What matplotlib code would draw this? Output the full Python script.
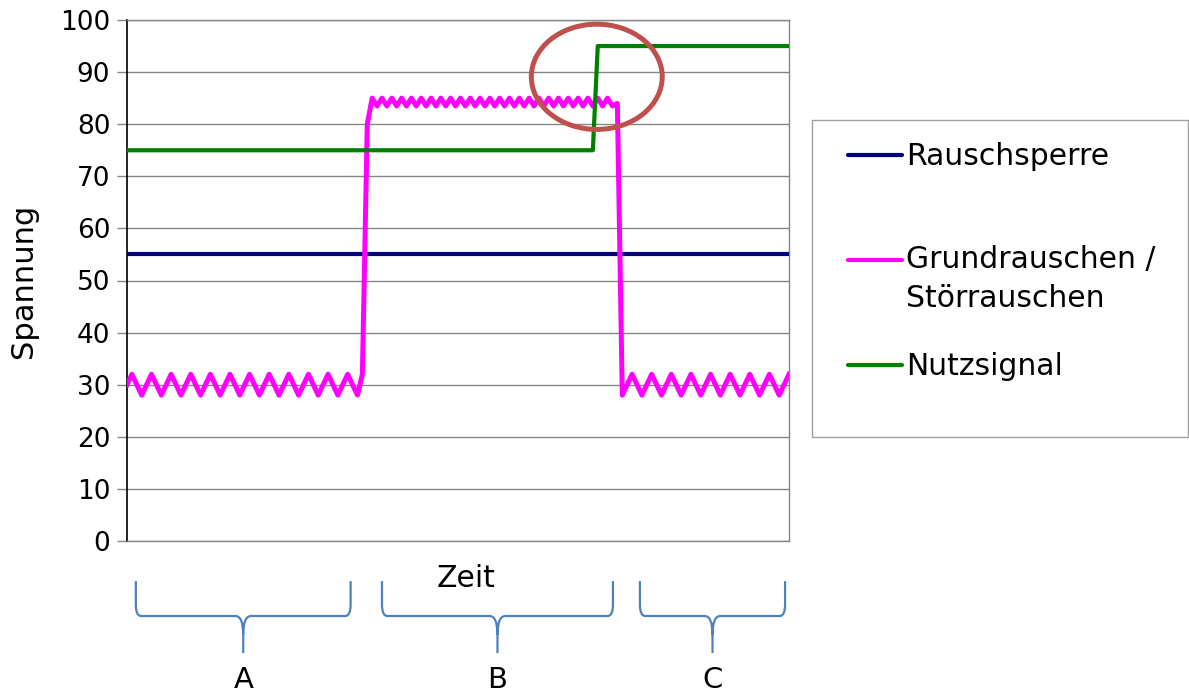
import numpy as np
import matplotlib
matplotlib.use("Agg")
import matplotlib.pyplot as plt
from matplotlib.patches import Ellipse, Rectangle, PathPatch
from matplotlib.path import Path
from matplotlib.lines import Line2D
from matplotlib.transforms import blended_transform_factory

# Grundrauschen / Stoerrauschen, ein Wert pro Abtastpunkt (0..135)
grundrauschen = [
    30, 32, 30, 28, 30, 32, 30, 28, 30, 32, 30, 28, 30, 32, 30, 28,
    30, 32, 30, 28, 30, 32, 30, 28, 30, 32, 30, 28, 30, 32, 30, 28,
    30, 32, 30, 28, 30, 32, 30, 28, 30, 32, 30, 28, 30, 32, 30, 28,
    32, 80,
    85, 83.5, 85, 83.5, 85, 83.5, 85, 83.5, 85, 83.5, 85, 83.5, 85, 83.5,
    85, 83.5, 85, 83.5, 85, 83.5, 85, 83.5, 85, 83.5, 85, 83.5, 85, 83.5,
    85, 83.5, 85, 83.5, 85, 83.5, 85, 83.5, 85, 83.5, 85, 83.5, 85, 83.5,
    85, 83.5, 85, 83.5, 85, 83.5, 85, 83.5, 84,
    28, 30, 32, 30, 28, 30, 32, 30, 28, 30, 32, 30, 28, 30, 32, 30,
    28, 30, 32, 30, 28, 30, 32, 30, 28, 30, 32, 30, 28, 30, 32, 30,
    28, 30, 32,
]
zeit = np.arange(len(grundrauschen))

rauschsperre_t = [0, 135]
rauschsperre = [55, 55]

nutzsignal_t = [0, 95, 96, 135]
nutzsignal = [75, 75, 95, 95]

serien_namen = ["Rauschsperre", "Grundrauschen /\nStörrauschen", "Nutzsignal"]
serien_farben = ["#000080", "#FF00FF", "#008000"]

y_ticks = list(range(0, 101, 10))

# Zeitabschnitte unter der Achse (in Abtastpunkten)
abschnitte = ["A", "B", "C"]
abschnitt_start = [1.8, 52.0, 104.6]
abschnitt_ende = [45.6, 99.1, 134.2]

# markierter Umschaltpunkt
markierung_mitte = (95.8, 89.1)
markierung_breite = 26.7
markierung_hoehe = 20.2

W, H = 1189, 693
fig = plt.figure(figsize=(W / 100, H / 100), dpi=100)
ax = fig.add_axes([127 / W, 1 - 541 / H, 662 / W, 521 / H])

ax.plot(rauschsperre_t, rauschsperre, color=serien_farben[0], lw=3.0, zorder=3)
ax.plot(zeit, grundrauschen, color=serien_farben[1], lw=3.6, zorder=3)
ax.plot(nutzsignal_t, nutzsignal, color=serien_farben[2], lw=3.0, zorder=4)

ax.add_patch(Ellipse(markierung_mitte, markierung_breite, markierung_hoehe,
                     fill=False, edgecolor="#C0504D", lw=3.6, zorder=5, clip_on=False))

ax.set_xlim(0, len(grundrauschen) - 1)
ax.set_ylim(0, 100)
ax.set_yticks(y_ticks)
ax.set_xticks([])
ax.yaxis.grid(True, color="#868686", lw=1.0)
ax.set_axisbelow(True)
for side in ["top", "right", "bottom"]:
    ax.spines[side].set_color("#868686")
    ax.spines[side].set_linewidth(1.0)
ax.spines["left"].set_color("black")
ax.spines["left"].set_linewidth(1.2)
ax.tick_params(axis="y", direction="out", length=7, width=1, color="#868686",
               labelsize=19, pad=5)

ax.set_ylabel("Spannung", fontsize=22)
ax.yaxis.set_label_coords(-0.134, 0.5)
ax.set_xlabel("Zeit", fontsize=21.5)
ax.xaxis.set_label_coords(0.512, -0.045)

# geschweifte Klammern fuer die Abschnitte
trans = blended_transform_factory(ax.transData, ax.transAxes)
y_top, y_mid, y_tip = -0.077, -0.144, -0.215
rx, ry = 1.1, 0.022
cx, cy = 1.6, 0.036
for name, x0, x1 in zip(abschnitte, abschnitt_start, abschnitt_ende):
    xc = (x0 + x1) / 2
    verts = [
        (x0, y_top), (x0, y_mid + ry), (x0, y_mid), (x0 + rx, y_mid),
        (xc - cx, y_mid), (xc, y_mid), (xc, y_mid - cy), (xc, y_tip),
        (x1, y_top), (x1, y_mid + ry), (x1, y_mid), (x1 - rx, y_mid),
        (xc + cx, y_mid), (xc, y_mid), (xc, y_mid - cy),
    ]
    codes = [
        Path.MOVETO, Path.LINETO, Path.CURVE3, Path.CURVE3,
        Path.LINETO, Path.CURVE3, Path.CURVE3, Path.LINETO,
        Path.MOVETO, Path.LINETO, Path.CURVE3, Path.CURVE3,
        Path.LINETO, Path.CURVE3, Path.CURVE3,
    ]
    ax.add_patch(PathPatch(Path(verts, codes), transform=trans, fill=False,
                           edgecolor="#4F81BD", lw=1.6, clip_on=False))
    ax.text(xc, -0.267, name, transform=trans, ha="center", va="center",
            fontsize=21)

# Legende (rechts, eigener Rahmen)
fig.patches.append(Rectangle((812 / W, 1 - 437 / H), 376 / W, 317 / H,
                             transform=fig.transFigure, fill=False,
                             edgecolor="#A0A0A0", lw=1.0))
legende_y = [155, 260, 365]
for name, farbe, yp in zip(serien_namen, serien_farben, legende_y):
    fig.lines.append(Line2D([848 / W, 902 / W], [1 - yp / H, 1 - yp / H],
                            transform=fig.transFigure, color=farbe, lw=3.0,
                            solid_capstyle="round"))
    # Grundlinie der letzten Zeile
    basis = yp + 10 + 37 * name.count("\n")
    fig.text(906 / W, 1 - basis / H, name, fontsize=21.5, va="baseline",
             ha="left", linespacing=1.45)

fig.savefig("out.png", dpi=100)
